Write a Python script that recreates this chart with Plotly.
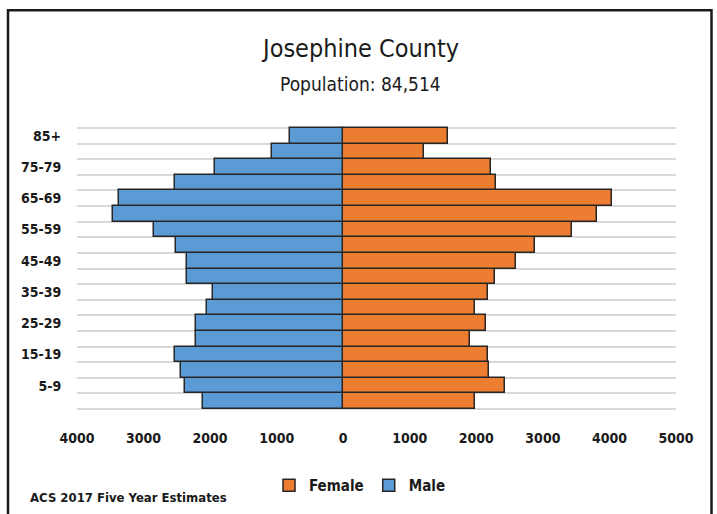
import plotly.graph_objects as go

# Age groups, bottom to top
age_groups = ["0-4", "5-9", "10-14", "15-19", "20-24", "25-29", "30-34", "35-39",
              "40-44", "45-49", "50-54", "55-59", "60-64", "65-69", "70-74",
              "75-79", "80-84", "85+"]
male = [2110, 2376, 2441, 2531, 2216, 2216, 2040, 1955, 2351, 2351, 2511, 2842,
        3464, 3373, 2531, 1930, 1068, 802]
female = [1975, 2436, 2195, 2170, 1910, 2150, 1975, 2170, 2281, 2591, 2882, 3434,
          3815, 4035, 2301, 2216, 1218, 1574]
x_tick_vals = [-4000, -3000, -2000, -1000, 0, 1000, 2000, 3000, 4000, 5000]
x_tick_text = ["4000", "3000", "2000", "1000", "0", "1000", "2000", "3000", "4000", "5000"]
labeled_groups = ["5-9", "15-19", "25-29", "35-39", "45-49", "55-59", "65-69", "75-79", "85+"]

FONT = "Liberation Sans Narrow, DejaVu Sans Condensed, Arial Narrow, sans-serif"
pos = list(range(len(age_groups)))

fig = go.Figure()
fig.add_trace(go.Bar(
    y=pos, x=female, orientation="h", name="<b>Female</b>",
    marker=dict(color="#ED7D31", line=dict(color="#262626", width=1.5)),
    customdata=age_groups, hovertemplate="%{customdata}: %{x}<extra>Female</extra>",
))
fig.add_trace(go.Bar(
    y=pos, x=[-v for v in male], orientation="h", name="<b>Male</b>",
    marker=dict(color="#5B9BD5", line=dict(color="#262626", width=1.5)),
    customdata=list(zip(age_groups, male)),
    hovertemplate="%{customdata[0]}: %{customdata[1]}<extra>Male</extra>",
))

L, R, T, B = 77, 41, 124, 99
W, H = 717, 514
pw, ph = W - L - R, H - T - B


def px(xp):
    return (xp - L) / pw


def py(yp):
    return (H - B - yp) / ph


n = len(age_groups)
pad = 0.25

fig.update_layout(
    width=W, height=H,
    margin=dict(l=L, r=R, t=T, b=B),
    barmode="relative", bargap=0,
    plot_bgcolor="white", paper_bgcolor="white",
    font=dict(family=FONT, color="#1a1a1a"),
    showlegend=True,
    legend=dict(orientation="h", x=px(360), y=py(488), xanchor="center", yanchor="middle",
                font=dict(size=15, family=FONT, color="#1a1a1a"), traceorder="normal",
                itemwidth=30, bgcolor="rgba(0,0,0,0)"),
    xaxis=dict(range=[-4000, 5000], tickvals=x_tick_vals,
               ticktext=["<b>%s</b>" % t for t in x_tick_text],
               showgrid=False, zeroline=False, showline=False,
               ticks="outside", ticklen=12, tickcolor="rgba(0,0,0,0)",
               tickfont=dict(size=14, family=FONT, color="#1a1a1a"), fixedrange=True),
    yaxis=dict(range=[-0.5 - pad, n - 0.5 + pad],
               tickvals=[age_groups.index(g) for g in labeled_groups],
               ticktext=["<b>%s</b>" % g for g in labeled_groups],
               showgrid=False, zeroline=False, showline=False,
               ticks="outside", ticklen=12, tickcolor="rgba(0,0,0,0)",
               tickfont=dict(size=14, family=FONT, color="#1a1a1a"),
               minor=dict(tick0=-0.5, dtick=1, showgrid=True, gridcolor="#d9d9d9", gridwidth=1.5,
                          ticks=""),
               fixedrange=True),
    annotations=[
        dict(text="Josephine County", x=px(360), y=py(48), xref="paper", yref="paper",
             showarrow=False, xanchor="center", yanchor="middle",
             font=dict(size=25, family=FONT, color="#1a1a1a")),
        dict(text="Population: 84,514", x=px(360), y=py(84), xref="paper", yref="paper",
             showarrow=False, xanchor="center", yanchor="middle",
             font=dict(size=19, family=FONT, color="#1a1a1a")),
        dict(text="<b>ACS 2017 Five Year Estimates</b>", x=px(28), y=py(500), xref="paper", yref="paper",
             showarrow=False, xanchor="left", yanchor="middle",
             font=dict(size=13, family=FONT, color="#1a1a1a")),
    ],
    shapes=[dict(type="rect", xref="paper", yref="paper",
                 x0=px(8), x1=px(711.5), y0=py(530), y1=py(9.5),
                 line=dict(color="#1a1a1a", width=2.5), fillcolor="rgba(0,0,0,0)", layer="below")],
)

fig.write_html("out.html", config={"displayModeBar": False},
               post_script="document.body.style.margin='0';document.body.style.overflow='hidden';")
